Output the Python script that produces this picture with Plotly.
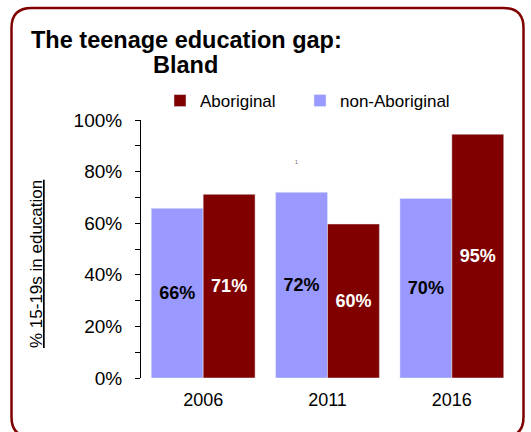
import plotly.graph_objects as go

# data
years = ["2006", "2011", "2016"]
non_aboriginal = [65.8, 72.0, 69.6]
aboriginal = [71.2, 59.7, 94.5]
y_ticks = [0, 20, 40, 60, 80, 100]
y_tick_labels = ["0%", "20%", "40%", "60%", "80%", "100%"]

W, H = 531, 432
L, R, T, B = 141, 17, 120, 54
PW, PH = W - L - R, H - T - B

RED = "#800000"
PURPLE = "#9999FF"
FONT = "Liberation Sans, Arial, sans-serif"


def px(x):
    # pixel x -> paper x
    return (x - L) / PW


def py(y):
    # pixel y (from top) -> paper y
    return (H - B - y) / PH


def rounded_box(x0, y0, x1, y1, r):
    return (
        f"M {px(x0 + r)},{py(y0)} L {px(x1 - r)},{py(y0)} "
        f"Q {px(x1)},{py(y0)} {px(x1)},{py(y0 + r)} "
        f"L {px(x1)},{py(y1 - r)} "
        f"Q {px(x1)},{py(y1)} {px(x1 - r)},{py(y1)} "
        f"L {px(x0 + r)},{py(y1)} "
        f"Q {px(x0)},{py(y1)} {px(x0)},{py(y1 - r)} "
        f"L {px(x0)},{py(y0 + r)} "
        f"Q {px(x0)},{py(y0)} {px(x0 + r)},{py(y0)} Z"
    )


fig = go.Figure()
fig.add_trace(
    go.Bar(
        x=years,
        y=non_aboriginal,
        name="non-Aboriginal",
        legend="legend2",
        marker_color=PURPLE,
        texttemplate="<b>%{y:.0f}%</b>",
        textposition="inside",
        insidetextanchor="middle",
        textfont=dict(color="black", size=18, family=FONT),
    )
)
fig.add_trace(
    go.Bar(
        x=years,
        y=aboriginal,
        name="Aboriginal",
        legend="legend",
        marker_color=RED,
        texttemplate="<b>%{y:.0f}%</b>",
        textposition="inside",
        insidetextanchor="middle",
        textfont=dict(color="white", size=18, family=FONT),
    )
)

legend_style = dict(
    orientation="h",
    xanchor="left",
    y=py(101),
    yanchor="middle",
    itemwidth=30,
    font=dict(family=FONT, size=17),
    bgcolor="rgba(0,0,0,0)",
)

fig.update_layout(
    width=W,
    height=H,
    margin=dict(l=L, r=R, t=T, b=B, pad=0),
    paper_bgcolor="white",
    plot_bgcolor="white",
    barmode="group",
    bargap=0.165,
    bargroupgap=0,
    font=dict(family=FONT, size=18, color="black"),
    showlegend=True,
    legend=dict(legend_style, x=px(160)),
    legend2=dict(legend_style, x=px(300)),
    uniformtext=dict(minsize=10, mode="show"),
)

fig.update_xaxes(
    showline=False,
    showgrid=False,
    ticks="",
    ticklabelstandoff=9,
    tickfont=dict(size=18),
)
fig.update_yaxes(
    range=[0, 100],
    tickvals=y_ticks,
    ticktext=y_tick_labels,
    showline=True,
    linecolor="black",
    linewidth=1,
    showgrid=False,
    zeroline=False,
    ticks="outside",
    ticklen=5,
    tickcolor="black",
    ticklabelstandoff=9,
    tickfont=dict(size=19),
    minor=dict(ticks="outside", ticklen=5, dtick=10, tickcolor="black"),
)

# title, two centred lines
fig.add_annotation(
    text="<b>The teenage education gap:</b>",
    x=px(186), y=py(40), xref="paper", yref="paper",
    xanchor="center", yanchor="middle", showarrow=False,
    font=dict(size=23.5, family=FONT, color="black"),
)
fig.add_annotation(
    text="<b>Bland</b>",
    x=px(185), y=py(65), xref="paper", yref="paper",
    xanchor="center", yanchor="middle", showarrow=False,
    font=dict(size=23.5, family=FONT, color="black"),
)

# y axis title, underlined
fig.add_annotation(
    text="<u>% 15-19s in education</u>",
    x=px(36), y=py(264), xref="paper", yref="paper",
    xanchor="center", yanchor="middle", textangle=-90, showarrow=False,
    font=dict(size=17, family=FONT, color="black"),
)

# small stray mark seen in the reference
fig.add_annotation(
    text="1", x=px(296), y=py(157), xref="paper", yref="paper",
    showarrow=False, font=dict(size=5, color="#666666"),
)

# rounded border
fig.add_shape(
    type="path",
    path=rounded_box(11.5, 8, 523.5, 437, 20),
    xref="paper", yref="paper",
    line=dict(color=RED, width=2.5),
    layer="above",
)

# the page's default body margin would shift the figure by 8px
fig.write_html(
    "out.html",
    config={"displayModeBar": False},
    post_script="document.body.style.margin='0';",
)
